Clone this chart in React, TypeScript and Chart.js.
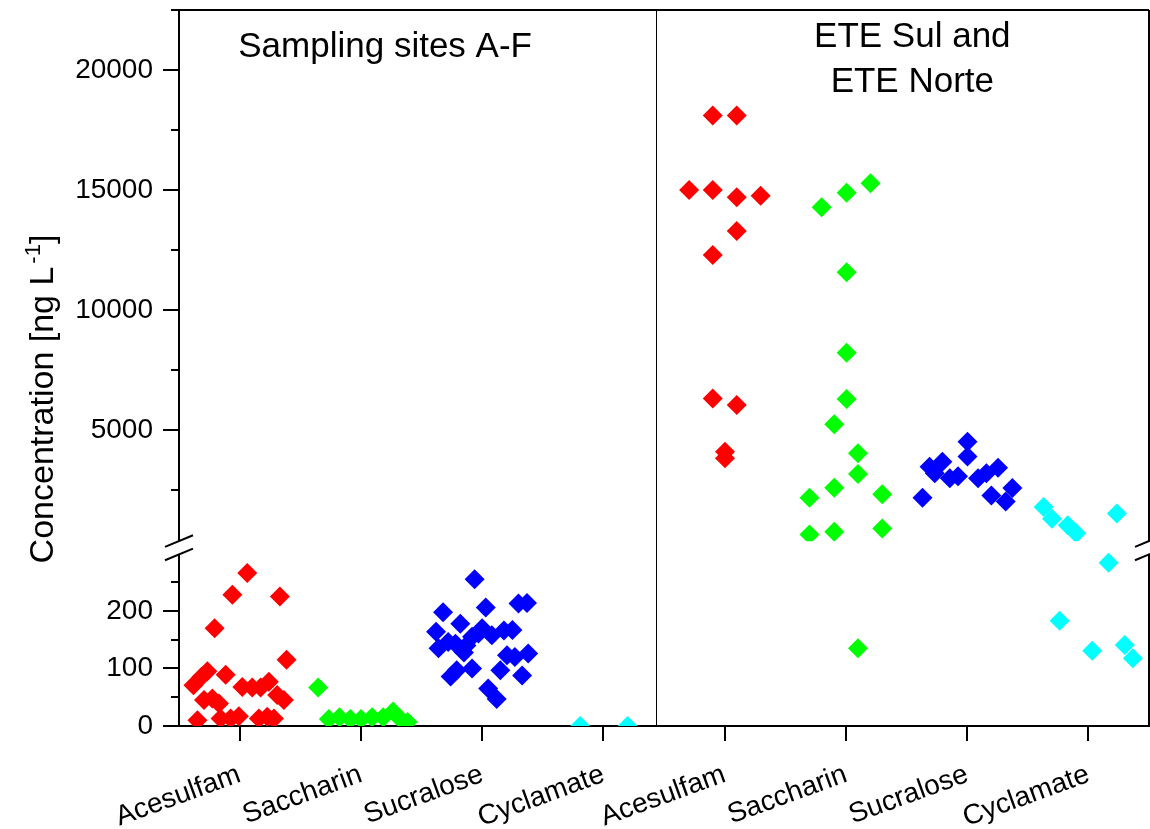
import { useEffect, useRef } from 'react';
import { Chart, registerables } from 'chart.js';

Chart.register(...registerables);

const FONT = '"Liberation Sans", Arial, Helvetica, sans-serif';

// ---- categories / ticks ----
const CATEGORY_POSITIONS = [1, 2, 3, 4, 5, 6, 7, 8];
const CATEGORY_LABELS = ['Acesulfam', 'Saccharin', 'Sucralose', 'Cyclamate', 'Acesulfam', 'Saccharin', 'Sucralose', 'Cyclamate'];
const PANEL_DIVIDER = 4.43;
const PANEL_LEFT_TITLE = 'Sampling sites A-F';
const PANEL_RIGHT_TITLE = ['ETE Sul and', 'ETE Norte'];

const BREAK_VALUE = 300;
const LOW_RANGE = [0, 310];
const HIGH_RANGE = [100, 22500];
const LOW_TICKS = [0, 100, 200];
const LOW_MINOR_TICKS = [50, 150, 250];
const HIGH_TICKS = [5000, 10000, 15000, 20000];
const HIGH_MINOR_TICKS = [2500, 7500, 12500, 17500, 22500];

// ---- series: [x position, concentration ng/L] ----
const AF_ACESULFAM: [number, number][] = [
  [0.652, 10], [0.619, 71], [0.684, 85], [0.734, 95], [0.706, 45], [0.775, 48], [0.83, 39],
  [0.794, 170], [0.885, 89], [0.843, 13], [0.926, 13], [0.994, 17], [0.94, 228], [1.022, 68],
  [1.063, 266], [1.104, 67], [1.173, 67], [1.241, 77], [1.159, 13], [1.228, 16], [1.283, 13],
  [1.31, 54], [1.332, 225], [1.365, 45], [1.387, 115],
];
const AF_SACCHARIN: [number, number][] = [
  [1.648, 67], [1.736, 12], [1.824, 15], [1.914, 12], [2.002, 12], [2.093, 15], [2.184, 15],
  [2.266, 25], [2.326, 12], [2.386, 7],
];
const AF_SUCRALOSE: [number, number][] = [
  [2.62, 164], [2.64, 135], [2.678, 198], [2.72, 146], [2.74, 86], [2.78, 143], [2.79, 97],
  [2.82, 178], [2.85, 128], [2.87, 140], [2.917, 155], [2.917, 100], [2.938, 255], [2.97, 161],
  [3.0, 170], [3.03, 206], [3.05, 65], [3.08, 158], [3.12, 47], [3.15, 97], [3.18, 166],
  [3.205, 123], [3.25, 167], [3.27, 120], [3.3, 213], [3.33, 88], [3.37, 214], [3.38, 126],
];
const AF_CYCLAMATE: [number, number][] = [[3.809, 0], [4.2, 0]];

const ETE_ACESULFAM: [number, number][] = [
  [4.902, 18100], [5.1, 18100], [4.707, 15000], [4.902, 15000], [5.1, 14700], [5.297, 14760],
  [5.1, 13290], [4.902, 12290], [4.902, 6320], [5.1, 6040], [5.003, 4100], [5.003, 3830],
];
const ETE_SACCHARIN: [number, number][] = [
  [5.8, 14280], [6.006, 14890], [6.203, 15280], [6.006, 11570], [6.006, 8220], [6.006, 6290],
  [5.904, 5240], [6.1, 4030], [6.1, 3170], [5.904, 2600], [5.7, 2180], [6.3, 2330], [6.3, 900],
  [5.904, 760], [5.7, 650], [6.1, 135],
];
const ETE_SUCRALOSE: [number, number][] = [
  [6.632, 2180], [7.003, 4510], [7.003, 3900], [6.69, 3470], [6.796, 3680], [6.733, 3200],
  [6.857, 2990], [6.925, 3080], [7.09, 2990], [7.159, 3200], [7.255, 3430], [7.2, 2270],
  [7.318, 2030], [7.373, 2590],
];
const ETE_CYCLAMATE: [number, number][] = [
  [7.631, 1800], [7.7, 1310], [7.83, 1040], [7.9, 700], [8.235, 1530], [8.167, 284],
  [7.763, 183], [8.032, 131], [8.3, 141], [8.367, 118],
];

const SERIES: { name: string; points: [number, number][]; color: string }[] = [
  { name: 'A-F Acesulfam', points: AF_ACESULFAM, color: '#FF0000' },
  { name: 'A-F Saccharin', points: AF_SACCHARIN, color: '#00FF00' },
  { name: 'A-F Sucralose', points: AF_SUCRALOSE, color: '#0000FF' },
  { name: 'A-F Cyclamate', points: AF_CYCLAMATE, color: '#00FFFF' },
  { name: 'ETE Acesulfam', points: ETE_ACESULFAM, color: '#FF0000' },
  { name: 'ETE Saccharin', points: ETE_SACCHARIN, color: '#00FF00' },
  { name: 'ETE Sucralose', points: ETE_SUCRALOSE, color: '#0000FF' },
  { name: 'ETE Cyclamate', points: ETE_CYCLAMATE, color: '#00FFFF' },
];

const GAP_HALF = 6.5;

function buildDatasets() {
  const out: any[] = [];
  for (const s of SERIES) {
    const low = s.points.filter((p) => p[1] <= BREAK_VALUE).map(([x, y]) => ({ x, y }));
    const high = s.points.filter((p) => p[1] > BREAK_VALUE).map(([x, y]) => ({ x, y }));
    const common = {
      pointStyle: 'rectRot',
      pointRadius: 10,
      pointHoverRadius: 10,
      pointBorderWidth: 0,
      borderWidth: 0,
      backgroundColor: s.color,
      borderColor: s.color,
      showLine: false,
    };
    if (low.length) out.push({ ...common, label: s.name + ' (low)', data: low, yAxisID: 'yLow' });
    if (high.length) out.push({ ...common, label: s.name + ' (high)', data: high, yAxisID: 'yHigh' });
  }
  return out;
}

const segmentClip = {
  id: 'segmentClip',
  beforeDatasetDraw(chart: any, args: any) {
    const ds = chart.data.datasets[args.index];
    const { ctx } = chart;
    ctx.save();
    if (ds.yAxisID === 'yHigh') {
      const yH = chart.scales.yHigh;
      ctx.beginPath();
      ctx.rect(0, 0, chart.width, yH.bottom - GAP_HALF);
      ctx.clip();
    }
  },
  afterDatasetDraw(chart: any) {
    chart.ctx.restore();
  },
};

const decor = {
  id: 'decor',
  afterDraw(chart: any) {
    const { ctx, chartArea: a, scales } = chart;
    const xS = scales.x;
    const yL = scales.yLow;
    const yH = scales.yHigh;
    const breakY = yL.top;
    ctx.save();
    ctx.strokeStyle = '#000';
    ctx.lineCap = 'butt';

    const line = (x1: number, y1: number, x2: number, y2: number, w: number) => {
      ctx.lineWidth = w;
      ctx.beginPath();
      ctx.moveTo(x1, y1);
      ctx.lineTo(x2, y2);
      ctx.stroke();
    };

    // minor ticks
    for (const v of HIGH_MINOR_TICKS) {
      const py = Math.round(yH.getPixelForValue(v));
      line(a.left - 8, py, a.left, py, 2);
    }
    for (const v of LOW_MINOR_TICKS) {
      const py = Math.round(yL.getPixelForValue(v));
      line(a.left - 8, py, a.left, py, 2);
    }
    // frame
    line(a.left, a.top, a.right, a.top, 2);
    line(a.right, a.top, a.right, a.bottom, 2);
    // divider
    const dx = Math.round(xS.getPixelForValue(PANEL_DIVIDER)) + 0.5;
    line(dx, a.top, dx, a.bottom, 1);

    // axis breaks
    ctx.fillStyle = '#fff';
    for (const ax of [a.left, a.right]) {
      ctx.fillRect(ax - 3, breakY - GAP_HALF, 6, GAP_HALF * 2);
      for (const dy of [-GAP_HALF - 0.2, GAP_HALF + 0.2]) {
        line(ax - 14, breakY + dy + 5.8, ax + 14, breakY + dy - 5.8, 2);
      }
    }

    // panel titles
    ctx.fillStyle = '#000';
    ctx.textAlign = 'center';
    ctx.textBaseline = 'alphabetic';
    ctx.font = `35px ${FONT}`;
    ctx.fillText(PANEL_LEFT_TITLE, xS.getPixelForValue(2.2), a.top + 47);
    const rx = xS.getPixelForValue(6.548);
    ctx.fillText(PANEL_RIGHT_TITLE[0], rx, a.top + 37);
    ctx.fillText(PANEL_RIGHT_TITLE[1], rx, a.top + 81.5);

    // y-axis title with superscript
    ctx.save();
    ctx.translate(53, a.top + 389);
    ctx.rotate(-Math.PI / 2);
    ctx.textAlign = 'left';
    const main = 'Concentration [ng L';
    const sup = '-1';
    const close = ']';
    ctx.font = `34px ${FONT}`;
    const w1 = ctx.measureText(main).width;
    const w3 = ctx.measureText(close).width;
    ctx.font = `22px ${FONT}`;
    const w2 = ctx.measureText(sup).width;
    const gap = 3;
    let sx = -(w1 + gap + w2 + w3) / 2;
    ctx.font = `34px ${FONT}`;
    ctx.fillText(main, sx, 0);
    sx += w1 + gap;
    ctx.font = `22px ${FONT}`;
    ctx.fillText(sup, sx, -13);
    sx += w2;
    ctx.font = `34px ${FONT}`;
    ctx.fillText(close, sx, 0);
    ctx.restore();

    ctx.restore();
  },
};

export default function App() {
  const ref = useRef<HTMLCanvasElement>(null);
  useEffect(() => {
    if (!ref.current) return;
    const tickFont = { size: 28, family: FONT };
    const yCommon = (ticks: number[]) => ({
      type: 'linear' as const,
      position: 'left' as const,
      stack: 'y',
      afterBuildTicks: (s: any) => {
        s.ticks = ticks.map((value) => ({ value }));
      },
      afterFit: (s: any) => {
        s.width = 179;
        s.paddingTop = 0;
        s.paddingBottom = 0;
      },
      ticks: { padding: 10, color: '#000', font: tickFont, callback: (v: any) => String(v) },
      grid: { drawOnChartArea: false, drawTicks: true, tickLength: 16, color: '#000', lineWidth: 2 },
      border: { display: true, color: '#000', width: 2 },
    });
    const chart = new Chart(ref.current, {
      type: 'scatter',
      data: { datasets: buildDatasets() },
      plugins: [segmentClip, decor],
      options: {
        animation: false,
        responsive: false,
        events: [],
        layout: { autoPadding: false, padding: { top: 10, right: 1, left: 0, bottom: 0 } },
        plugins: { legend: { display: false }, tooltip: { enabled: false } },
        scales: {
          x: {
            type: 'linear',
            position: 'bottom',
            min: 0.5,
            max: 8.5,
            afterBuildTicks: (s: any) => {
              s.ticks = CATEGORY_POSITIONS.map((value) => ({ value }));
            },
            afterFit: (s: any) => {
              s.height = 103;
              s.paddingLeft = 0;
              s.paddingRight = 0;
            },
            ticks: {
              autoSkip: false,
              minRotation: 20,
              maxRotation: 20,
              padding: 17,
              color: '#000',
              font: tickFont,
              callback: (v: any) => CATEGORY_LABELS[Math.round(v) - 1] ?? '',
            },
            grid: { drawOnChartArea: false, drawTicks: true, tickLength: 15, color: '#000', lineWidth: 2 },
            border: { display: true, color: '#000', width: 2 },
          },
          yLow: { ...yCommon(LOW_TICKS), min: LOW_RANGE[0], max: LOW_RANGE[1], stackWeight: 178.25 },
          yHigh: { ...yCommon(HIGH_TICKS), min: HIGH_RANGE[0], max: HIGH_RANGE[1], stackWeight: 537.6 },
        } as any,
      },
    });
    return () => chart.destroy();
  }, []);
  return (
    <div style={{ position: 'fixed', left: 0, top: 0, width: 1150, height: 829, background: '#fff' }}>
      <canvas ref={ref} width={1150} height={829} style={{ display: 'block' }} />
    </div>
  );
}
